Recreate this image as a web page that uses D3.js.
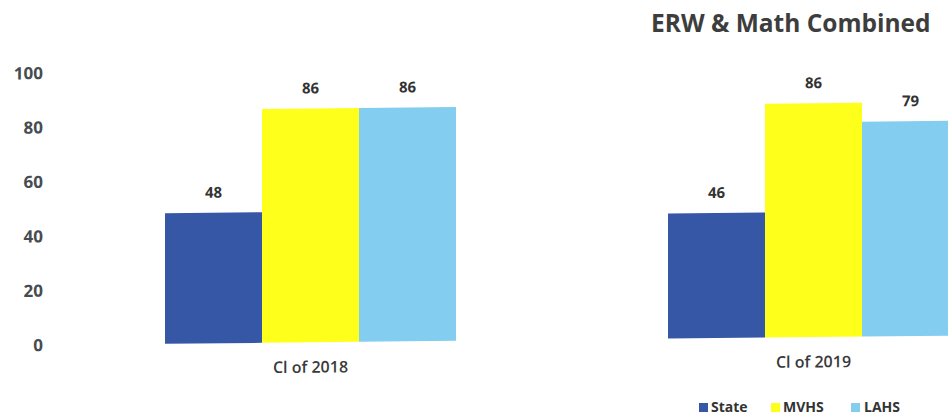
<!DOCTYPE html>
<html>
<head>
<meta charset="utf-8">
<script src="https://cdn.jsdelivr.net/npm/d3@7"></script>
<style>
  html, body { margin: 0; padding: 0; background: #fff; overflow: hidden; }
  svg { display: block; font-family: "Open Sans", "DejaVu Sans", sans-serif; }
</style>
</head>
<body>
<svg id="chart" width="948" height="419"></svg>
<script>
// Chart data
const cohorts = ["Cl of 2018", "Cl of 2019"];
const schools = ["State", "MVHS", "LAHS"];
const stateValues = [48, 46];
const mvhsValues = [86, 86];
const lahsValues = [86, 79];
const yTicks = [0, 20, 40, 60, 80, 100];
const titleText = "ERW & Math Combined";

const colors = { State: "#3656a6", MVHS: "#ffff1c", LAHS: "#82cdf0" };

const rows = cohorts.map((c, i) => ({
  cohort: c,
  values: [
    { key: "State", value: stateValues[i] },
    { key: "MVHS", value: mvhsValues[i] },
    { key: "LAHS", value: lahsValues[i] }
  ]
}));

const svg = d3.select("#chart");

// Slight page tilt of the printed sheet
const tilt = -0.0105;
const g = svg.append("g").attr("transform", `matrix(1,${tilt},0,1,0,0)`);

const x0 = d3.scaleBand().domain(cohorts).range([59, 1065])
  .paddingInner(0.4215).paddingOuter(0.21075);
const x1 = d3.scaleBand().domain(schools).range([0, x0.bandwidth()]).padding(0);
const y = d3.scaleLinear().domain([0, 100]).range([345.6, 73.6]);

// Y axis labels only (no line, no ticks)
const yAxis = d3.axisLeft(y).tickValues(yTicks).tickSize(0).tickPadding(0);
const ya = g.append("g").attr("transform", "translate(43,0)").call(yAxis);
ya.select(".domain").remove();
ya.selectAll("text")
  .attr("font-family", "'Open Sans', sans-serif")
  .attr("font-size", 17)
  .attr("font-weight", 700)
  .attr("fill", "#474c52");

// Bars
const groups = g.selectAll(".grp").data(rows).join("g")
  .attr("class", "grp")
  .attr("transform", d => `translate(${x0(d.cohort)},0)`);

groups.selectAll("rect").data(d => d.values).join("rect")
  .attr("x", d => x1(d.key))
  .attr("y", d => y(d.value))
  .attr("width", x1.bandwidth())
  .attr("height", d => y(0) - y(d.value))
  .attr("fill", d => colors[d.key]);

// Value labels
groups.selectAll("text.val").data(d => d.values).join("text")
  .attr("class", "val")
  .attr("x", d => x1(d.key) + x1.bandwidth() / 2)
  .attr("y", d => y(d.value) - 15)
  .attr("text-anchor", "middle")
  .attr("font-size", 15)
  .attr("font-weight", 700)
  .attr("fill", "#333")
  .text(d => d.value);

// Category labels
const xAxis = d3.axisBottom(x0).tickSize(0).tickPadding(0);
const xa = g.append("g").attr("transform", `translate(0,${y(0) + 19})`).call(xAxis);
xa.select(".domain").remove();
xa.selectAll("text")
  .attr("font-family", "'Open Sans', sans-serif")
  .attr("font-size", 16)
  .attr("font-weight", 600)
  .attr("fill", "#3a3a3a");

// Title
svg.append("text")
  .attr("x", 651)
  .attr("y", 32)
  .attr("font-size", 24.5)
  .attr("font-weight", 700)
  .attr("fill", "#3d3d3d")
  .text(titleText);

// Legend
const legendItems = [
  { key: "State", mx: 699, tx: 711 },
  { key: "MVHS", mx: 771, tx: 783 },
  { key: "LAHS", mx: 851, tx: 864 }
];
const legend = svg.append("g");
legend.selectAll("rect").data(legendItems).join("rect")
  .attr("x", d => d.mx)
  .attr("y", 403)
  .attr("width", 9)
  .attr("height", 9)
  .attr("fill", d => colors[d.key]);
legend.selectAll("text").data(legendItems).join("text")
  .attr("x", d => d.tx)
  .attr("y", 412)
  .attr("font-size", 14)
  .attr("font-weight", 700)
  .attr("fill", "#333")
  .text(d => d.key);
</script>
</body>
</html>
